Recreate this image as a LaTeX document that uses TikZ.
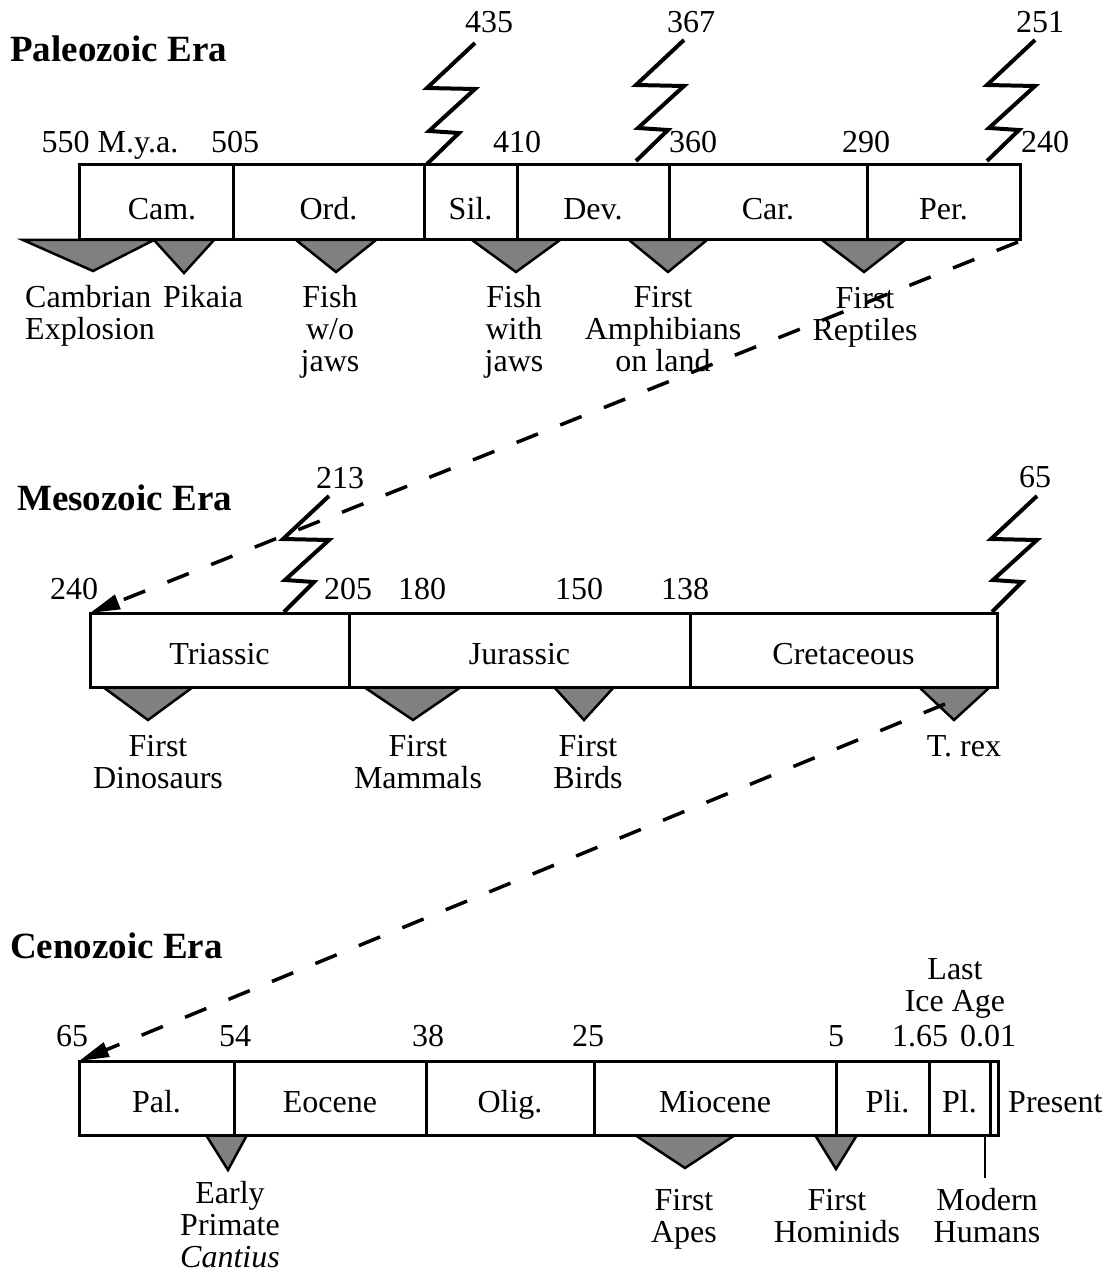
\documentclass[tikz,border=0pt]{standalone}
\usepackage{fontspec}
\setmainfont{Liberation Serif}
\usetikzlibrary{arrows.meta}
\begin{document}
\begin{tikzpicture}[x=1pt,y=-1pt,
  lbl/.style={font=\fontsize{32}{32}\selectfont, inner sep=0pt, align=center, anchor=base},
  ttl/.style={font=\bfseries\fontsize{37}{37}\selectfont, inner sep=0pt, anchor=base west},
  pbox/.style={draw, line width=3pt, inner sep=0pt, outer sep=0pt, minimum height=75pt,
     font=\fontsize{32}{32}\selectfont, text height=35pt, text depth=0pt},
  mbox/.style={pbox, minimum height=74pt, text height=28pt},
  tri/.style={fill=black!50, draw=black, line width=2.5pt, line join=miter},
  zig/.style={line width=4pt, line join=miter},
  dasharrow/.style={line width=3.5pt, dash pattern=on 23pt off 24pt, -{Triangle[length=30pt,width=15pt]}}
]
\useasboundingbox (0,0) rectangle (1109,1273);

% ---------------- Paleozoic ----------------
\node[ttl] (tPal) at (10,62) {Paleozoic Era};
% triangles first (behind bar)
\filldraw[tri] (23,240) -- (154,240) -- (93,271) -- cycle;
\filldraw[tri] (154,240) -- (214,240) -- (184,273) -- cycle;
\filldraw[tri] (296,240) -- (376,240) -- (336,272) -- cycle;
\filldraw[tri] (472,240) -- (560,240) -- (516,272) -- cycle;
\filldraw[tri] (629,240) -- (707,240) -- (668,272) -- cycle;
\filldraw[tri] (822,240) -- (905,240) -- (864,272) -- cycle;
\node[pbox, minimum width=154pt, fill=white] (cam) at (156,202.5) {\hspace*{12pt}Cam.};
\node[pbox, minimum width=191pt, fill=white] (ord) at (328.5,202.5) {Ord.};
\node[pbox, minimum width=93pt, fill=white] (sil) at (470.5,202.5) {Sil.};
\node[pbox, minimum width=152pt, fill=white] (dev) at (593,202.5) {Dev.};
\node[pbox, minimum width=198pt, fill=white] (car) at (768,202.5) {Car.};
\node[pbox, minimum width=153pt, fill=white] (per) at (943.5,202.5) {Per.};
% numbers
\node[lbl] (n550) at (110,153) {550 M.y.a.};
\node[lbl] (n505) at (235,153) {505};
\node[lbl] (n410) at (517,153) {410};
\node[lbl] (n360) at (693,153) {360};
\node[lbl] (n290) at (866,153) {290};
\node[lbl] (n240a) at (1045,153) {240};
% zigzags
\draw[zig] (427,164) -- ++(32,-31) -- ++(-30,-2) -- ++(46,-42) -- ++(-48,-1) -- ++(48,-45);
\node[lbl] (n435) at (489,33) {435};
\draw[zig] (636,161) -- ++(32,-31) -- ++(-30,-2) -- ++(46,-42) -- ++(-48,-1) -- ++(48,-45);
\node[lbl] (n367) at (691,33) {367};
\draw[zig] (987,161) -- ++(32,-31) -- ++(-30,-2) -- ++(46,-42) -- ++(-48,-1) -- ++(48,-45);
\node[lbl] (n251) at (1040,33) {251};
% event labels (anchor base = last line's baseline)
\node[lbl, anchor=base west, align=left] (lCamb) at (25,339) {Cambrian\\Explosion};
\node[lbl, anchor=base west] (lPik) at (163,307) {Pikaia};
\node[lbl] (lFish1) at (330,371) {Fish\\w/o\\jaws};
\node[lbl] (lFish2) at (514,371) {Fish\\with\\jaws};
\node[lbl] (lAmph) at (663,371) {First\\Amphibians\\on land};
\node[lbl] (lRept) at (865,340) {First\\Reptiles};

% ---------------- Mesozoic ----------------
\node[ttl] (tMes) at (17,510) {Mesozoic Era};
\filldraw[tri] (103,687) -- (193,687) -- (148,720) -- cycle;
\filldraw[tri] (364,687) -- (461,687) -- (413,720) -- cycle;
\filldraw[tri] (554,687) -- (614,687) -- (584,720) -- cycle;
\filldraw[tri] (919,687) -- (990,687) -- (954,720) -- cycle;
\node[mbox, minimum width=259pt, fill=white] (tria) at (219.5,650) {Triassic};
\node[mbox, minimum width=341pt, fill=white] (jur) at (519.5,650) {Jurassic};
\node[mbox, minimum width=307pt, fill=white] (cre) at (843.5,650) {Cretaceous};
\node[lbl] (n240b) at (74,599) {240};
\node[lbl] (n205) at (348,599) {205};
\node[lbl] (n180) at (422,599) {180};
\node[lbl] (n150) at (579,599) {150};
\node[lbl] (n138) at (685,599) {138};
\draw[zig] (284,612) -- ++(30,-30) -- ++(-29,-2) -- ++(44,-40) -- ++(-46,-1) -- ++(46,-43);
\node[lbl] (n213) at (340,488) {213};
\draw[zig] (992,612) -- ++(30,-30) -- ++(-29,-2) -- ++(44,-40) -- ++(-46,-1) -- ++(46,-43);
\node[lbl] (n65a) at (1035,487) {65};
\node[lbl] (lDino) at (158,788) {First\\Dinosaurs};
\node[lbl] (lMamm) at (418,788) {First\\Mammals};
\node[lbl] (lBird) at (588,788) {First\\Birds};
\node[lbl] (lTrex) at (964,756) {T. rex};

% ---------------- Cenozoic ----------------
\node[ttl] (tCen) at (10,958) {Cenozoic Era};
\filldraw[tri] (206,1135) -- (247,1135) -- (228,1170) -- cycle;
\filldraw[tri] (635,1135) -- (735,1135) -- (685,1168) -- cycle;
\filldraw[tri] (815,1135) -- (857,1135) -- (836,1169) -- cycle;
\node[mbox, minimum width=155pt, fill=white] (pal) at (156.5,1098) {Pal.};
\node[mbox, minimum width=192pt, fill=white] (eoc) at (330,1098) {Eocene};
\node[mbox, minimum width=168pt, fill=white] (oli) at (510,1098) {Olig.};
\node[mbox, minimum width=242pt, fill=white] (mio) at (715,1098) {Miocene};
\node[mbox, minimum width=93pt, fill=white] (pli) at (882.5,1098) {\hspace*{10pt}Pli.};
\node[mbox, minimum width=61pt, fill=white] (ple) at (959.5,1098) {Pl.};
\node[mbox, minimum width=8pt, fill=white] (hol) at (994,1098) {};
\coordinate (modTop) at (985,1135);
\coordinate (modBot) at (985,1178);
\draw[line width=2.5pt] (modTop) -- (modBot);
\node[lbl] (n65b) at (72,1046) {65};
\node[lbl] (n54) at (235,1046) {54};
\node[lbl] (n38) at (428,1046) {38};
\node[lbl] (n25) at (588,1046) {25};
\node[lbl] (n5) at (836,1046) {5};
\node[lbl] (n165) at (920,1046) {1.65};
\node[lbl] (n001) at (988,1046) {0.01};
\node[lbl] (lIce) at (955,1011) {Last\\Ice Age};
\node[lbl, anchor=base west] (lPres) at (1008,1112) {Present};
\node[lbl] (lPrim) at (230,1267) {Early\\Primate\\\textit{Cantius}};
\node[lbl] (lApes) at (684,1242) {First\\Apes};
\node[lbl] (lHomi) at (837,1242) {First\\Hominids};
\node[lbl] (lMod) at (987,1242) {Modern\\Humans};

% ---------------- dashed connectors ----------------
\coordinate (d1s) at (1018,242);
\coordinate (d2s) at (945,704);
\draw[dasharrow] (d1s) -- (tria.north west);
\draw[dasharrow] (d2s) -- (pal.north west);
\end{tikzpicture}
\end{document}
